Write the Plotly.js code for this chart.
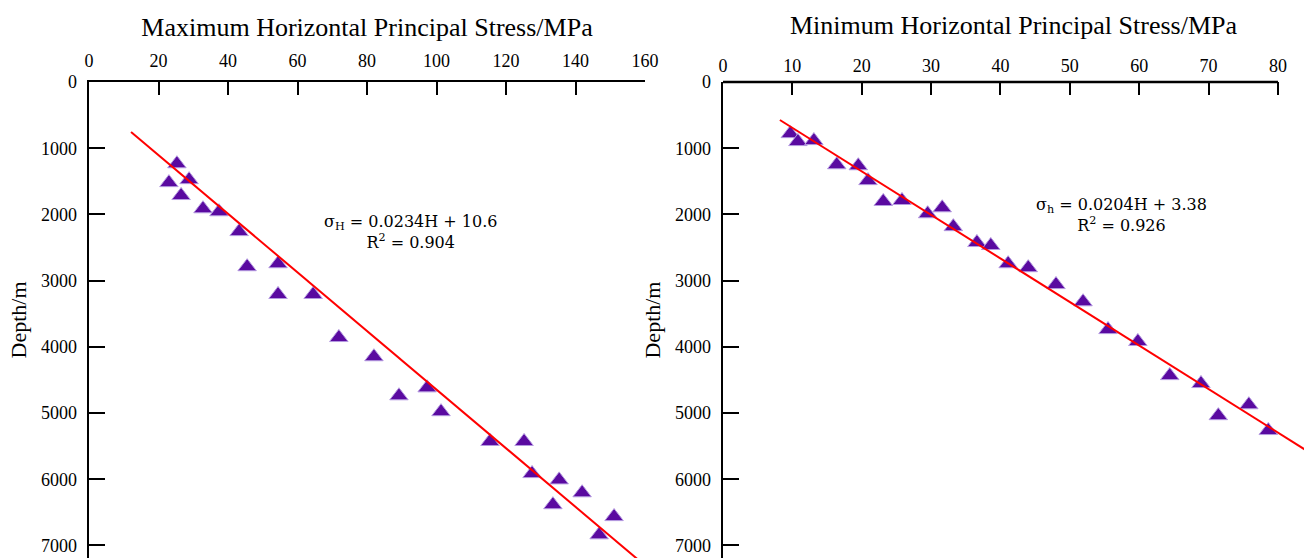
<!DOCTYPE html>
<html>
<head>
<meta charset="utf-8">
<script src="https://cdn.plot.ly/plotly-3.0.1.min.js"></script>
<style>html,body{margin:0;padding:0;background:#fff;}#chart{width:1304px;height:558px;}</style>
</head>
<body>
<div id="chart"></div>
<script>
// Maximum horizontal principal stress (MPa) vs depth (m)
const maxStress = [25.3, 23.0, 28.8, 26.5, 32.8, 37.4, 43.2, 45.5, 54.4, 54.4, 64.5, 71.9, 82.0, 89.2, 97.3, 101.3, 115.4, 125.2, 127.5, 135.3, 133.5, 141.9, 151.1, 146.8];
const maxDepth  = [1235, 1520, 1475, 1715, 1915, 1960, 2260, 2790, 2745, 3210, 3210, 3860, 4150, 4740, 4620, 4980, 5430, 5430, 5915, 6010, 6385, 6205, 6565, 6840];
// Minimum horizontal principal stress (MPa) vs depth (m)
const minStress = [9.7, 10.8, 13.1, 16.4, 19.5, 20.9, 23.1, 25.8, 29.5, 31.6, 33.2, 36.6, 38.6, 41.1, 44.0, 48.0, 51.9, 55.5, 59.8, 64.4, 68.9, 71.4, 75.8, 78.6];
const minDepth  = [780, 900, 885, 1250, 1265, 1490, 1805, 1790, 1990, 1900, 2185, 2425, 2470, 2745, 2805, 3060, 3320, 3740, 3920, 4435, 4555, 5040, 4875, 5265];
// Fitted trend lines (end points as drawn)
const maxFitStress = [12.1, 158.8];
const maxFitDepth  = [755, 7250];
const minFitStress = [8.2, 84.5];
const minFitDepth  = [574, 5593];
// Tick labels
const maxTicks = [0, 20, 40, 60, 80, 100, 120, 140, 160];
const minTicks = [0, 10, 20, 30, 40, 50, 60, 70, 80];
const depthTicks = [0, 1000, 2000, 3000, 4000, 5000, 6000, 7000];
const titles = {
  left: "Maximum Horizontal Principal Stress/MPa",
  right: "Minimum Horizontal Principal Stress/MPa",
  depth: "Depth/m"
};
const eqLeft = "σ<sub>H</sub> = 0.0234H + 10.6<br>R<sup>2</sup> = 0.904";
const eqRight = "σ<sub>h</sub> = 0.0204H + 3.38<br>R<sup>2</sup> = 0.926";

const SERIF = "'Times New Roman', 'Liberation Serif', serif";
const purple = "#5a0aa0";
const markerStyle = {symbol: "triangle-up", size: 16, color: purple, line: {color: "#b49ae0", width: 1}};

const traces = [
  {x: maxStress, y: maxDepth, xaxis: "x", yaxis: "y", type: "scatter", mode: "markers", marker: markerStyle, cliponaxis: false, hoverinfo: "skip"},
  {x: maxFitStress, y: maxFitDepth, xaxis: "x", yaxis: "y", type: "scatter", mode: "lines", line: {color: "#ff0000", width: 2}, hoverinfo: "skip"},
  {x: minStress, y: minDepth, xaxis: "x2", yaxis: "y2", type: "scatter", mode: "markers", marker: markerStyle, cliponaxis: false, hoverinfo: "skip"},
  {x: minFitStress, y: minFitDepth, xaxis: "x2", yaxis: "y2", type: "scatter", mode: "lines", line: {color: "#ff0000", width: 2}, hoverinfo: "skip"}
];

const W = 1304;
const xAxisCommon = {
  side: "top", showgrid: false, zeroline: false, showline: true, linecolor: "#000", linewidth: 2.5,
  ticks: "inside", ticklen: 13, tickwidth: 2, tickcolor: "#000", ticklabelstandoff: 5,
  tickfont: {family: SERIF, size: 18, color: "#000"}, automargin: false, fixedrange: true
};
const yAxisCommon = {
  showgrid: false, zeroline: false, showline: true, linecolor: "#000", linewidth: 2.5,
  ticks: "inside", ticklen: 16, tickwidth: 2, tickcolor: "#000", ticklabelstandoff: 6,
  tickvals: depthTicks, ticktext: depthTicks.map(String),
  tickfont: {family: SERIF, size: 18, color: "#000"}, automargin: false, fixedrange: true,
  range: [7190, 0],
  title: {text: titles.depth, font: {family: SERIF, size: 22, color: "#000"}, standoff: 8}
};

const layout = {
  width: W, height: 558,
  margin: {l: 0, r: 0, t: 82, b: 0, pad: 0},
  paper_bgcolor: "#fff", plot_bgcolor: "#fff",
  showlegend: false,
  xaxis: Object.assign({}, xAxisCommon, {
    domain: [89 / W, 645 / W], range: [0, 160], anchor: "y",
    tickvals: maxTicks, ticktext: maxTicks.map(String),
    title: {text: titles.left, font: {family: SERIF, size: 26, color: "#000"}, standoff: 7}
  }),
  yaxis: Object.assign({}, yAxisCommon, {anchor: "x", domain: [0, 1]}),
  xaxis2: Object.assign({}, xAxisCommon, {
    domain: [723 / W, 1], range: [0, 83.75], anchor: "y2", showline: false,
    tickvals: minTicks, ticktext: minTicks.map(String),
    title: {text: titles.right, font: {family: SERIF, size: 26, color: "#000"}, standoff: 14}
  }),
  yaxis2: Object.assign({}, yAxisCommon, {anchor: "x2", domain: [0, 1]}),
  shapes: [
    {type: "line", xref: "x2", yref: "paper", x0: 0, x1: 80, y0: 1, y1: 1, line: {color: "#000", width: 2.5}, layer: "above"}
  ],
  annotations: [
    {xref: "x", yref: "y", x: 92.4, y: 2266, text: eqLeft, showarrow: false, align: "center",
     font: {family: "'DejaVu Serif', 'Liberation Serif', serif", size: 16, color: "#000"}},
    {xref: "x2", yref: "y2", x: 57.5, y: 2009, text: eqRight, showarrow: false, align: "center",
     font: {family: "'DejaVu Serif', 'Liberation Serif', serif", size: 16, color: "#000"}}
  ]
};

Plotly.newPlot("chart", traces, layout, {staticPlot: true, displayModeBar: false});
</script>
</body>
</html>
